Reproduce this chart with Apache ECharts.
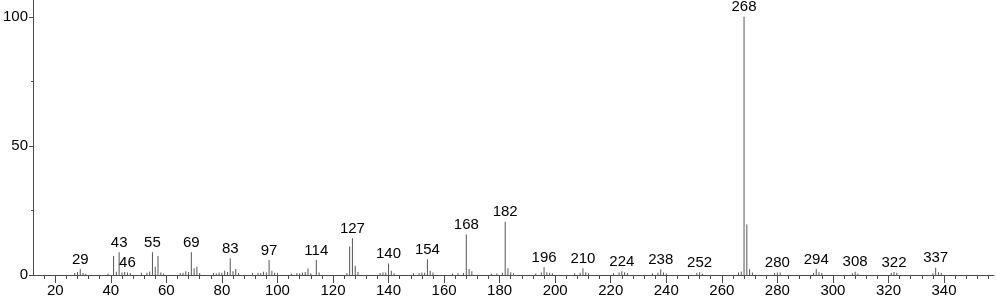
<!DOCTYPE html>
<html>
<head>
<meta charset="utf-8">
<script src="https://cdn.jsdelivr.net/npm/echarts@6/dist/echarts.min.js"></script>
<style>
html,body{margin:0;padding:0;background:#fff;}
#chart{width:996px;height:299px;}
</style>
</head>
<body>
<div id="chart"></div>
<script>
// m/z values of peaks
var mzValues = [27,28,29,30,31,39,41,42,43,44,45,46,47,51,53,54,55,56,57,58,59,65,66,67,68,69,70,71,72,77,78,79,80,81,82,83,84,85,86,91,93,94,95,96,97,98,99,100,105,107,108,109,110,111,112,114,115,125,126,127,128,129,137,138,139,140,141,142,149,151,152,153,154,155,156,163,165,167,168,169,170,177,179,181,182,183,184,185,193,195,196,197,198,199,207,209,210,211,212,221,223,224,225,226,235,237,238,239,240,251,252,253,266,267,268,269,270,271,279,280,281,293,294,295,296,307,308,309,321,322,323,336,337,338,339];
// relative intensities (%)
var intensities = [0.8,1.2,2.3,0.8,0.5,0.6,7.4,1.3,8.8,1.0,1.2,1.0,0.8,0.9,0.9,1.4,8.8,3.2,7.4,1.0,0.6,0.8,0.9,1.5,1.2,8.8,2.6,3.2,0.8,0.8,0.6,1.0,0.9,1.6,1.2,6.5,1.5,2.3,0.8,0.8,0.9,0.8,1.3,1.0,5.8,1.6,0.9,0.9,0.6,0.8,0.7,1.0,1.2,2.5,0.7,5.8,1.0,0.8,11.0,14.2,3.6,1.2,0.8,1.0,1.0,4.5,1.6,0.7,0.7,0.8,1.0,0.9,6.1,1.6,1.0,0.6,0.7,0.8,15.7,2.3,1.5,0.6,0.6,0.9,20.6,2.6,1.1,0.7,0.6,1.0,3.0,1.1,0.9,0.7,0.7,0.9,2.6,1.1,0.7,0.7,1.0,1.5,1.1,0.8,0.7,0.9,2.2,1.0,0.6,0.8,1.1,0.5,1.0,1.4,100,19.6,2.2,1.0,0.8,1.0,1.0,0.8,2.3,1.1,0.8,0.7,1.3,0.5,0.8,1.2,0.9,0.7,2.8,1.1,0.8];
// peaks carrying a text label
var labeledPeaks = [29,43,46,55,69,83,97,114,127,140,154,168,182,196,210,224,238,252,268,280,294,308,322,337];
// axis tick labels
var xTickLabels = [20,40,60,80,100,120,140,160,180,200,220,240,260,280,300,320,340];
var yTickLabels = [0,50,100];
var yMinorTicks = [25,75];
var xMinorTicks = [];
for (var t = 16; t <= 356; t += 4) { if (t % 20 !== 0) xMinorTicks.push(t); }

var data = mzValues.map(function (m, i) {
  var item = { value: [m, intensities[i]] };
  if (labeledPeaks.indexOf(m) >= 0) item.label = { show: true };
  return item;
});

var font = 'Liberation Sans, Arial, sans-serif';
var axisColor = '#4a4a4a';
var chart = echarts.init(document.getElementById('chart'), null, { renderer: 'canvas' });
chart.setOption({
  animation: false,
  backgroundColor: '#fff',
  grid: { left: 31, right: 2, top: 0, bottom: 24 },
  xAxis: [{
    type: 'value', min: 12, max: 358, position: 'bottom',
    axisLine: { show: true, lineStyle: { color: axisColor, width: 1 } },
    axisTick: { show: true, customValues: xTickLabels, length: 8, lineStyle: { color: axisColor } },
    axisLabel: { show: true, customValues: xTickLabels, fontSize: 15, color: '#000', fontFamily: font, margin: 8 },
    splitLine: { show: false }
  }, {
    type: 'value', min: 12, max: 358, position: 'bottom',
    axisLine: { show: false },
    axisTick: { show: true, customValues: xMinorTicks, length: 4, lineStyle: { color: axisColor } },
    axisLabel: { show: false },
    splitLine: { show: false }
  }],
  yAxis: [{
    type: 'value', min: 0, max: 106.5, position: 'left',
    axisLine: { show: true, lineStyle: { color: axisColor, width: 1 } },
    axisTick: { show: true, customValues: yTickLabels, length: 4, lineStyle: { color: axisColor } },
    axisLabel: { show: true, customValues: yTickLabels, fontSize: 15, color: '#000', fontFamily: font, margin: 5 },
    splitLine: { show: false }
  }, {
    type: 'value', min: 0, max: 106.5, position: 'left',
    axisLine: { show: false },
    axisTick: { show: true, customValues: yMinorTicks, length: 2, lineStyle: { color: axisColor } },
    axisLabel: { show: false },
    splitLine: { show: false }
  }],
  series: [{
    type: 'bar',
    xAxisIndex: 0, yAxisIndex: 0,
    barWidth: 1,
    itemStyle: { color: '#555' },
    label: {
      show: false, position: 'top', distance: 2,
      fontSize: 15, color: '#000', fontFamily: font,
      formatter: function (p) { return String(p.value[0]); }
    },
    labelLayout: { hideOverlap: false },
    data: data
  }]
});
</script>
</body>
</html>
